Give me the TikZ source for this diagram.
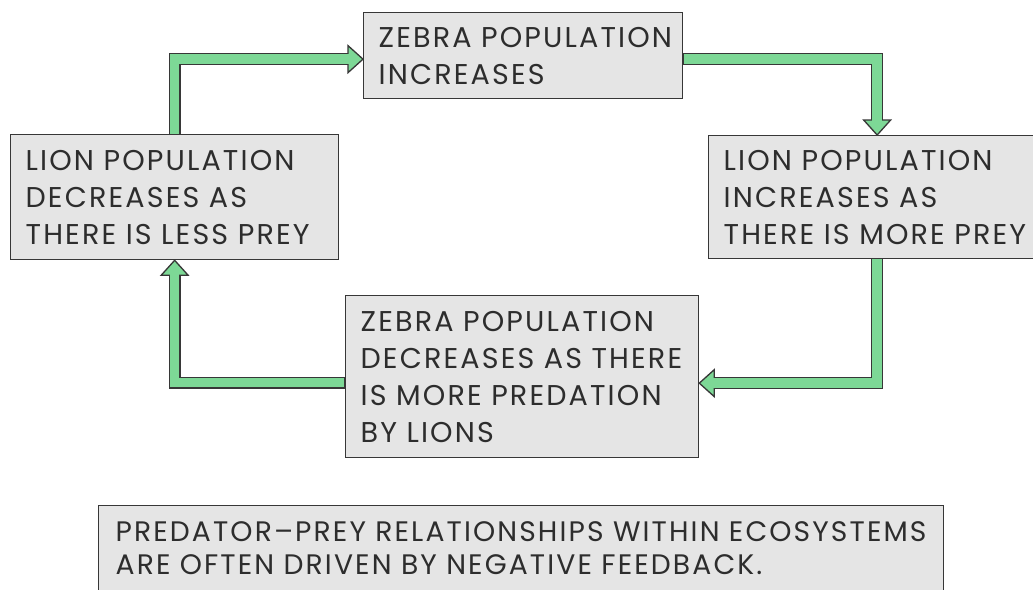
\documentclass[tikz,border=0pt]{standalone}
\usepackage{fontspec}
\setmainfont{Poppins}[LetterSpace=7.5]
\usetikzlibrary{calc,backgrounds}
\definecolor{boxfill}{RGB}{229,229,229}
\definecolor{edge}{RGB}{55,55,55}
\definecolor{arrowgreen}{RGB}{125,216,150}
\definecolor{txt}{RGB}{45,45,45}
\begin{document}
\begin{tikzpicture}[x=1pt,y=-1pt,
  box/.style={draw=edge, line width=1.3pt, fill=boxfill, anchor=north west,
    inner xsep=15pt, inner ysep=0pt, align=left, text=txt,
    font=\fontsize{28.6}{37}\selectfont},
  shaftdark/.style={draw=edge, line width=12pt},
  shaftgreen/.style={draw=arrowgreen, line width=9.4pt},
  head/.style={fill=arrowgreen, draw=edge, line width=1.3pt, line join=miter}]
\useasboundingbox (0,0) rectangle (1033,589);

\node[box, text width=289pt, minimum height=86pt] (T) at (363,12)
  {\mbox{ZEBRA POPULATION}\\\mbox{INCREASES}};
\node[box, text width=298pt, minimum height=125pt] (L) at (10,134)
  {\mbox{LION POPULATION}\\\mbox{DECREASES AS}\\\mbox{THERE IS LESS PREY}};
\node[box, text width=307pt, minimum height=123pt] (R) at (708,135)
  {\mbox{LION POPULATION}\\\mbox{INCREASES AS}\\\mbox{THERE IS MORE PREY}};
\node[box, text width=323pt, minimum height=162pt] (M) at (345,295)
  {\mbox{ZEBRA POPULATION}\\\mbox{DECREASES AS THERE}\\\mbox{IS MORE PREDATION}\\\mbox{BY LIONS}};
\node[box, text width=811pt, minimum height=85pt, inner xsep=17pt,
  font=\fontsize{28.2}{33}\selectfont] (B) at (98,505)
  {\mbox{PREDATOR–PREY RELATIONSHIPS WITHIN ECOSYSTEMS}\\\mbox{ARE OFTEN DRIVEN BY NEGATIVE FEEDBACK.}};

\begin{scope}[on background layer]
\fill[white] (0,0) rectangle (1033,589);
% arrow 1: L -> T
\coordinate (e1) at ([yshift=-3.5pt]T.west);
\coordinate (b1) at ($(e1)+(-15,0)$);
\draw[shaftdark] (L.north) |- (b1);
\draw[head] (e1) -- ($(b1)+(0,-13.5)$) -- ($(b1)+(0,13.5)$) -- cycle;
\draw[shaftgreen] ([yshift=-1pt]L.north) |- ($(b1)+(2,0)$);
% arrow 2: T -> R
\coordinate (e2) at (R.north);
\coordinate (b2) at ($(e2)+(0,-15)$);
\draw[shaftdark] ([yshift=-3.5pt]T.east) -| (b2);
\draw[head] (e2) -- ($(b2)+(-13.5,0)$) -- ($(b2)+(13.5,0)$) -- cycle;
\draw[shaftgreen] ([yshift=-3.5pt,xshift=1pt]T.east) -| ($(b2)+(0,2)$);
% arrow 3: R -> M
\coordinate (e3) at ([yshift=-6.5pt]M.east);
\coordinate (b3) at ($(e3)+(15,0)$);
\draw[shaftdark] (R.south) |- (b3);
\draw[head] (e3) -- ($(b3)+(0,-13.5)$) -- ($(b3)+(0,13.5)$) -- cycle;
\draw[shaftgreen] ([yshift=1pt]R.south) |- ($(b3)+(-2,0)$);
% arrow 4: M -> L
\coordinate (e4) at (L.south);
\coordinate (b4) at ($(e4)+(0,15)$);
\draw[shaftdark] ([yshift=-6pt]M.west) -| (b4);
\draw[head] (e4) -- ($(b4)+(-13.5,0)$) -- ($(b4)+(13.5,0)$) -- cycle;
\draw[shaftgreen] ([yshift=-6pt,xshift=-1pt]M.west) -| ($(b4)+(0,-2)$);
\end{scope}
\end{tikzpicture}
\end{document}
